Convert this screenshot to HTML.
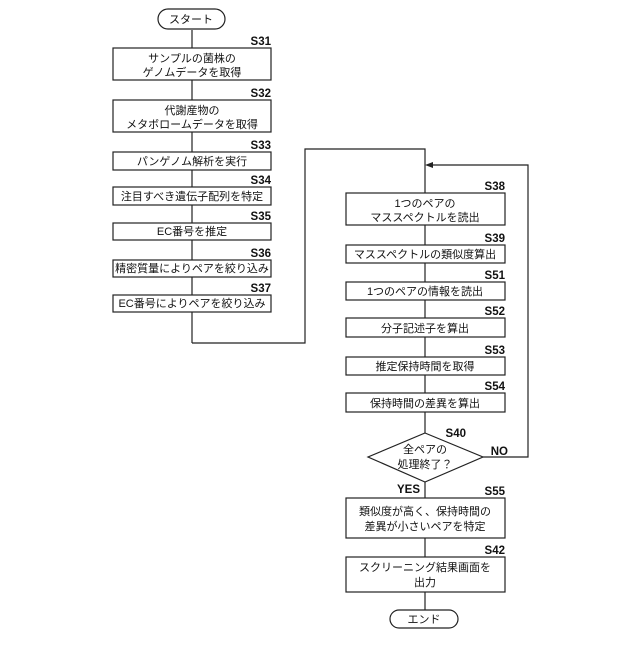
<!DOCTYPE html>
<html><head><meta charset="utf-8"><style>
body{margin:0;background:#fff}
svg text{font-family:"Liberation Sans","Noto Sans CJK JP",sans-serif;fill:#111}
.t{font-size:11px;text-anchor:middle}
.l{font-size:11.5px;font-weight:bold;text-anchor:end}
</style></head><body>
<svg width="640" height="640" viewBox="0 0 640 640" xmlns="http://www.w3.org/2000/svg">
<g stroke="#222" stroke-width="1.2" fill="none">
<line x1="192" y1="30" x2="192" y2="343"/>
<polyline points="192,343 305,343 305,149 425,149 425,610"/>
<polyline points="483,457 528,457 528,165 431,165"/>
</g>
<polygon points="425,165 433,162 433,168" fill="#222"/>
<g stroke="#222" stroke-width="1.2" fill="#fff">
<rect x="158" y="9" width="67" height="20" rx="10"/>
<rect x="113" y="48" width="158" height="32"/>
<rect x="113" y="100" width="158" height="32"/>
<rect x="113" y="152" width="158" height="18"/>
<rect x="113" y="187" width="158" height="18"/>
<rect x="113" y="223" width="158" height="17"/>
<rect x="113" y="260" width="158" height="17"/>
<rect x="113" y="295" width="158" height="17"/>
<rect x="346" y="193" width="159" height="32"/>
<rect x="346" y="245" width="159" height="18"/>
<rect x="346" y="282" width="159" height="18"/>
<rect x="346" y="318" width="159" height="19"/>
<rect x="346" y="357" width="159" height="18"/>
<rect x="346" y="393" width="159" height="19"/>
<polygon points="425,433 483,457 425,482 368,457"/>
<rect x="346" y="498" width="159" height="40"/>
<rect x="346" y="557" width="159" height="35"/>
<rect x="390" y="610" width="68" height="18" rx="9"/>
</g>
<text class="t" x="191" y="23">スタート</text>
<text class="l" x="271" y="45">S31</text>
<text class="t" x="192" y="62">サンプルの菌株の</text>
<text class="t" x="192" y="76">ゲノムデータを取得</text>
<text class="l" x="271" y="97">S32</text>
<text class="t" x="192" y="114">代謝産物の</text>
<text class="t" x="192" y="128">メタボロームデータを取得</text>
<text class="l" x="271" y="149">S33</text>
<text class="t" x="192" y="165">パンゲノム解析を実行</text>
<text class="l" x="271" y="184">S34</text>
<text class="t" x="192" y="200">注目すべき遺伝子配列を特定</text>
<text class="l" x="271" y="220">S35</text>
<text class="t" x="192" y="235">EC番号を推定</text>
<text class="l" x="271" y="257">S36</text>
<text class="t" x="192" y="272">精密質量によりペアを絞り込み</text>
<text class="l" x="271" y="292">S37</text>
<text class="t" x="192" y="307">EC番号によりペアを絞り込み</text>
<text class="l" x="505" y="190">S38</text>
<text class="t" x="425" y="207">1つのペアの</text>
<text class="t" x="425" y="221">マススペクトルを読出</text>
<text class="l" x="505" y="242">S39</text>
<text class="t" x="425" y="258">マススペクトルの類似度算出</text>
<text class="l" x="505" y="279">S51</text>
<text class="t" x="425" y="295">1つのペアの情報を読出</text>
<text class="l" x="505" y="315">S52</text>
<text class="t" x="425" y="332">分子記述子を算出</text>
<text class="l" x="505" y="354">S53</text>
<text class="t" x="425" y="370">推定保持時間を取得</text>
<text class="l" x="505" y="390">S54</text>
<text class="t" x="425" y="407">保持時間の差異を算出</text>
<text class="l" x="466" y="437">S40</text>
<text class="t" x="425" y="453">全ペアの</text>
<text class="t" x="425" y="468">処理終了？</text>
<text class="l" x="508" y="455">NO</text>
<text class="l" x="420" y="493">YES</text>
<text class="l" x="505" y="495">S55</text>
<text class="t" x="425" y="515">類似度が高く、保持時間の</text>
<text class="t" x="425" y="530">差異が小さいペアを特定</text>
<text class="l" x="505" y="554">S42</text>
<text class="t" x="425" y="571">スクリーニング結果画面を</text>
<text class="t" x="425" y="586">出力</text>
<text class="t" x="424" y="623">エンド</text>
</svg>
</body></html>
